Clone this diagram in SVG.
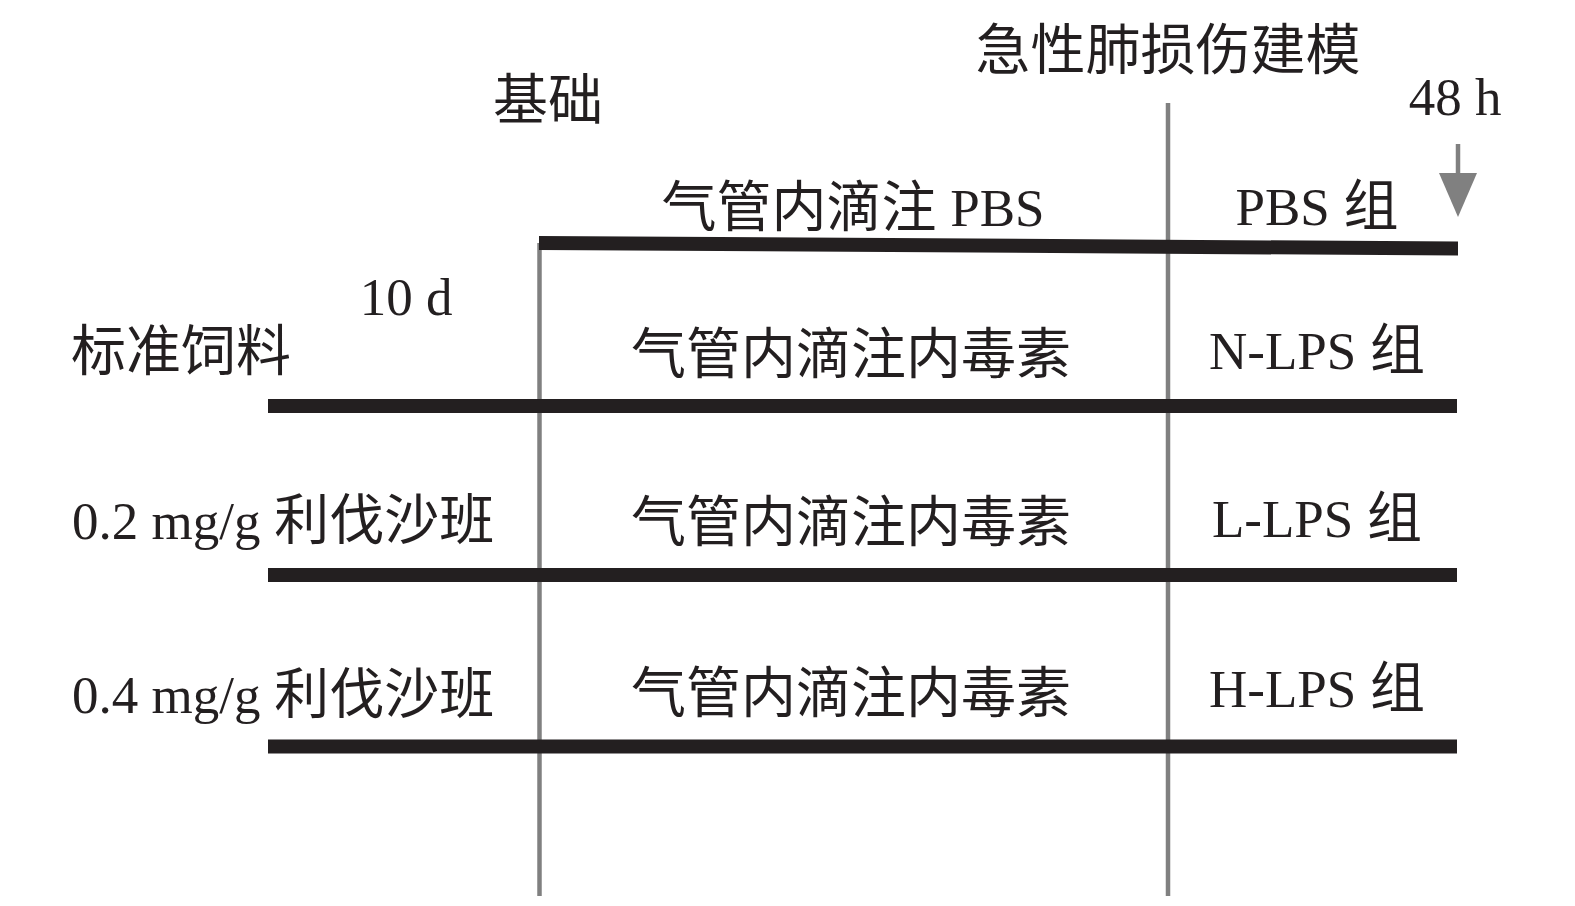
<svg xmlns="http://www.w3.org/2000/svg" width="1575" height="906" viewBox="0 0 1575 906">
<defs>
<style>
.t{font-family:"Liberation Serif","Noto Sans CJK SC",serif;font-size:55px;fill:#231f20}
.l{font-size:53px}
.bar{stroke:#231f20;stroke-width:14;fill:none}
.vl{stroke:#808080;stroke-width:4.5;fill:none}
</style>
</defs>
<rect width="1575" height="906" fill="#fff"/>
<g id="connectors">
<line class="vl" x1="539.5" y1="243" x2="539.5" y2="896"/>
<line class="vl" x1="1168" y1="103" x2="1168" y2="896"/>
<polygon points="539,236 1458,241.5 1458,255.5 539,250" fill="#231f20"/>
<line class="bar" x1="268" y1="406" x2="1457" y2="406"/>
<line class="bar" x1="268" y1="575" x2="1457" y2="575"/>
<line class="bar" x1="268" y1="746.5" x2="1457" y2="746.5"/>
<line x1="1458" y1="144" x2="1458" y2="176" stroke="#808080" stroke-width="4.5"/>
<polygon points="1439,173 1477,173 1458,217" fill="#808080"/>
</g>
<g id="header-ali"><text class="t" x="1168" y="69" text-anchor="middle">急性肺损伤建模</text></g>
<g id="header-base"><text class="t" x="548" y="119" text-anchor="middle">基础</text></g>
<g id="label-48h"><text class="t l" x="1455" y="115" text-anchor="middle">48 h</text></g>
<g id="label-10d"><text class="t l" x="406" y="315" text-anchor="middle">10 d</text></g>
<g id="row-pbs">
<text class="t" x="853" y="226" text-anchor="middle">气管内滴注 <tspan class="l">PBS</tspan></text>
<text class="t" x="1317" y="225" text-anchor="middle"><tspan class="l">PBS</tspan> 组</text>
</g>
<g id="row-n">
<text class="t" x="71" y="370">标准饲料</text>
<text class="t" x="851" y="373" text-anchor="middle">气管内滴注内毒素</text>
<text class="t" x="1317" y="369" text-anchor="middle"><tspan class="l">N-LPS</tspan> 组</text>
</g>
<g id="row-l">
<text class="t" x="72" y="539"><tspan class="l">0.2 mg/g</tspan> 利伐沙班</text>
<text class="t" x="851" y="541" text-anchor="middle">气管内滴注内毒素</text>
<text class="t" x="1317" y="537" text-anchor="middle"><tspan class="l">L-LPS</tspan> 组</text>
</g>
<g id="row-h">
<text class="t" x="72" y="713"><tspan class="l">0.4 mg/g</tspan> 利伐沙班</text>
<text class="t" x="851" y="712" text-anchor="middle">气管内滴注内毒素</text>
<text class="t" x="1317" y="707" text-anchor="middle"><tspan class="l">H-LPS</tspan> 组</text>
</g>
</svg>
